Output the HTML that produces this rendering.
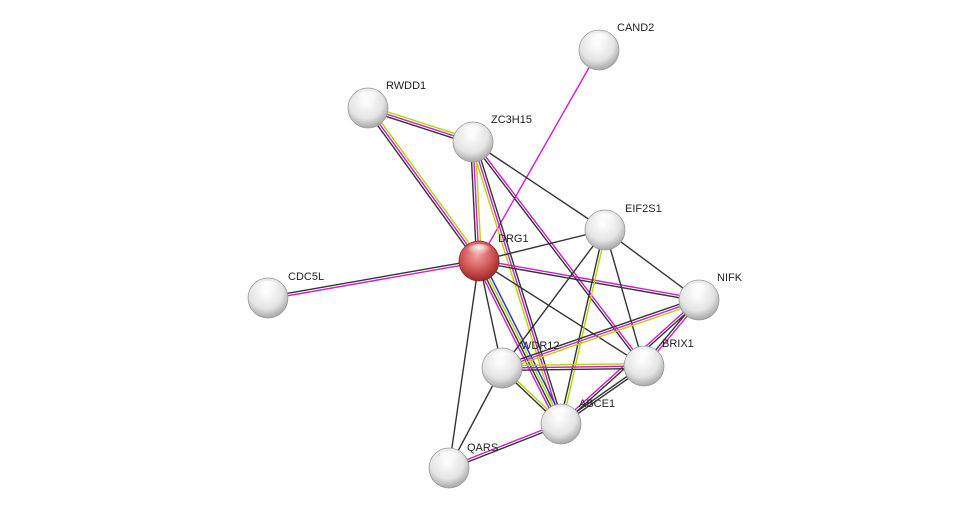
<!DOCTYPE html>
<html><head><meta charset="utf-8"><style>
html,body{margin:0;padding:0;background:#fff;width:976px;height:514px;overflow:hidden}
svg text{font-family:"Liberation Sans",sans-serif;font-size:11px;fill:#222}
</style></head><body>
<svg id="s" width="976" height="514" xmlns="http://www.w3.org/2000/svg">
<defs>
<radialGradient id="g" cx="0.45" cy="0.35" r="0.7">
<stop offset="0" stop-color="#ffffff"/><stop offset="0.6" stop-color="#e4e4e4"/><stop offset="1" stop-color="#9a9a9a"/>
</radialGradient>
<radialGradient id="r" cx="0.45" cy="0.35" r="0.7">
<stop offset="0" stop-color="#f4a0a0"/><stop offset="0.6" stop-color="#cc4e4e"/><stop offset="1" stop-color="#8a2222"/>
</radialGradient>
<radialGradient id="h" cx="0.5" cy="0.2" r="0.5">
<stop offset="0" stop-color="#fff" stop-opacity="0.95"/><stop offset="1" stop-color="#fff" stop-opacity="0"/>
</radialGradient>
</defs>
<g id="e"></g><g id="n"></g>
</svg>
<script>
var N={CAND2:[599,50],RWDD1:[368,108],ZC3H15:[473,142],EIF2S1:[605,230],DRG1:[479,261],CDC5L:[268,298],NIFK:[699,300],WDR12:[502,368],BRIX1:[644,366],ABCE1:[561,424],QARS:[449,468]};
var C={k:"#333",m:"#d21bd2",y:"#b5d400",b:"#2222ee"};
var E=[["DRG1","CAND2","m"],["RWDD1","DRG1","ymk"],["RWDD1","ZC3H15","ymk"],["ZC3H15","DRG1","ymk"],["ZC3H15","ABCE1","kmy"],["ZC3H15","BRIX1","mk"],["ZC3H15","EIF2S1","k"],["DRG1","CDC5L","mk"],["DRG1","EIF2S1","k"],["DRG1","NIFK","mk"],["DRG1","BRIX1","k"],["DRG1","WDR12","k"],["DRG1","ABCE1","bykm"],["DRG1","QARS","k"],["EIF2S1","WDR12","k"],["EIF2S1","ABCE1","yk"],["EIF2S1","BRIX1","k"],["EIF2S1","NIFK","k"],["NIFK","WDR12","ymk"],["NIFK","ABCE1","km"],["NIFK","BRIX1","mk"],["WDR12","BRIX1","ymk"],["WDR12","ABCE1","yk"],["WDR12","QARS","k"],["BRIX1","ABCE1","kk"],["QARS","ABCE1","mk"]];
var ns="http://www.w3.org/2000/svg",eg=document.getElementById("e"),ng=document.getElementById("n");
E.forEach(function(d){var a=N[d[0]],b=N[d[1]],dx=b[0]-a[0],dy=b[1]-a[1],L=Math.hypot(dx,dy),px=-dy/L,py=dx/L,n=d[2].length;
for(var i=0;i<n;i++){var o=(i-(n-1)/2)*2.4,l=document.createElementNS(ns,"line");
l.setAttribute("x1",a[0]+px*o);l.setAttribute("y1",a[1]+py*o);l.setAttribute("x2",b[0]+px*o);l.setAttribute("y2",b[1]+py*o);
l.setAttribute("stroke",C[d[2][i]]);l.setAttribute("stroke-width","1.4");eg.appendChild(l);}});
var lab={CAND2:[18,-23],RWDD1:[18,-23],ZC3H15:[18,-23],EIF2S1:[20,-22],DRG1:[19,-23],CDC5L:[20,-22],NIFK:[18,-23],WDR12:[19,-23],BRIX1:[18,-23],ABCE1:[18,-21],QARS:[18,-21]};
for(var k in N){var p=N[k],c=document.createElementNS(ns,"circle");
c.setAttribute("cx",p[0]);c.setAttribute("cy",p[1]);c.setAttribute("r",20);c.setAttribute("fill",k=="DRG1"?"url(#r)":"url(#g)");c.setAttribute("stroke",k=="DRG1"?"#8a2a2a":"#999");c.setAttribute("stroke-width","0.8");ng.appendChild(c);
var hl=document.createElementNS(ns,"ellipse");hl.setAttribute("cx",p[0]);hl.setAttribute("cy",p[1]-9);hl.setAttribute("rx",13);hl.setAttribute("ry",8);hl.setAttribute("fill","url(#h)");ng.appendChild(hl);
var t=document.createElementNS(ns,"text");t.setAttribute("x",p[0]+lab[k][0]);t.setAttribute("y",p[1]+lab[k][1]+4);t.textContent=k;ng.appendChild(t);}
</script>
</body></html>
